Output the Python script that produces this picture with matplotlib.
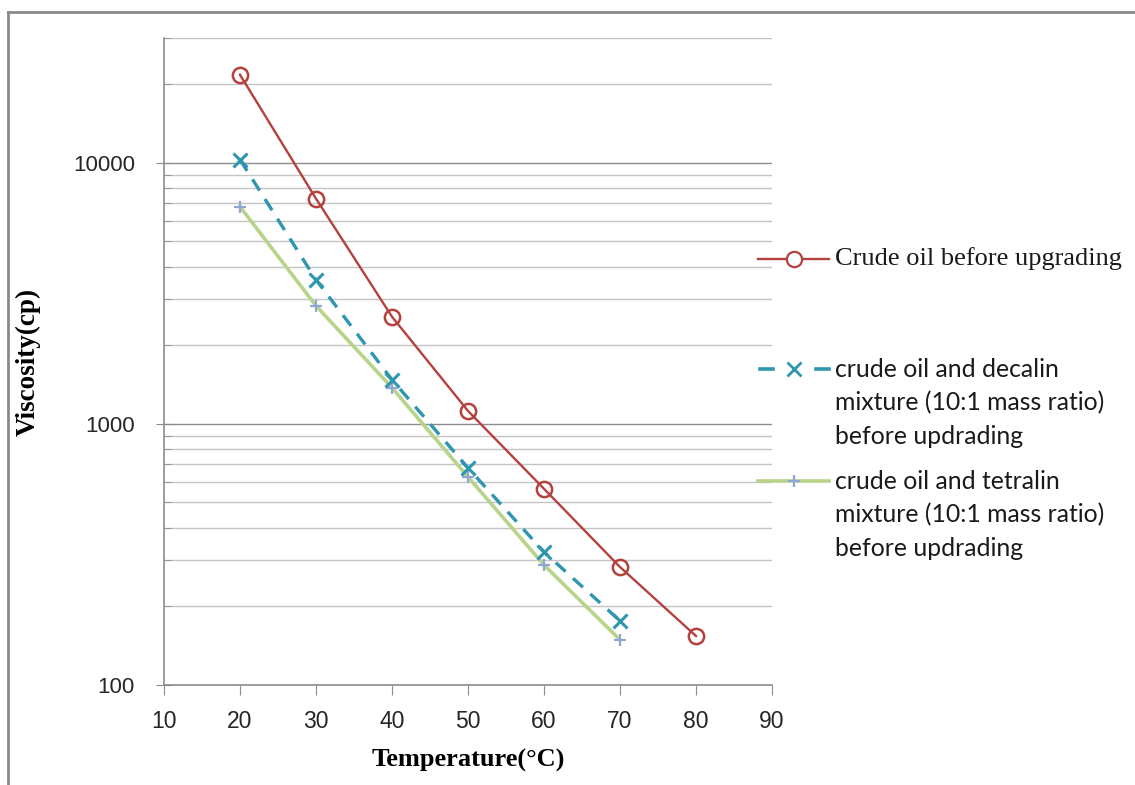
import matplotlib
matplotlib.use("Agg")
import matplotlib.pyplot as plt
from matplotlib.lines import Line2D
from matplotlib.ticker import LogLocator, NullFormatter, FixedLocator

# data
temps_crude = [20, 30, 40, 50, 60, 70, 80]
visc_crude = [21700, 7280, 2570, 1120, 564, 283, 154]

temps_mix = [20, 30, 40, 50, 60, 70]
visc_decalin = [10270, 3560, 1475, 678, 323, 176]
visc_tetralin = [6780, 2830, 1374, 626, 288, 149]

labels = [
    "Crude oil before upgrading",
    "crude oil and decalin\nmixture (10:1 mass ratio)\nbefore updrading",
    "crude oil and tetralin\nmixture (10:1 mass ratio)\nbefore updrading",
]
x_ticks = [10, 20, 30, 40, 50, 60, 70, 80, 90]
y_ticks = [100, 1000, 10000]

RED = "#B5413F"
TEAL = "#2E96AE"
GREEN = "#B7D48A"
PLUS = "#8FA5D3"
GRID_MAJOR = "#8C8C8C"
GRID_MINOR = "#C4C4C4"

W, H = 1135, 785
fig = plt.figure(figsize=(W / 100, H / 100), dpi=100)
ax = fig.add_axes([164 / W, 1 - 685 / H, (772 - 164) / W, (685 - 38) / H])

ax.plot(temps_mix, visc_tetralin, color=GREEN, lw=2.6, marker="+", ms=9,
        mec=PLUS, mew=1.6, zorder=3)
ax.plot(temps_mix, visc_decalin, color=TEAL, lw=2.4, ls=(0, (4, 3)),
        marker="x", ms=10, mec=TEAL, mew=2.2, zorder=4)
ax.plot(temps_crude, visc_crude, color=RED, lw=1.7, marker="o", ms=11,
        mfc="none", mec=RED, mew=1.8, zorder=5)

ax.set_yscale("log")
ax.set_xlim(10, 90)
ax.set_ylim(100, 30000)
ax.set_xticks(x_ticks)
ax.yaxis.set_major_locator(FixedLocator(y_ticks))
ax.set_yticklabels([str(v) for v in y_ticks])
ax.yaxis.set_minor_locator(LogLocator(base=10, subs=range(2, 10)))
ax.yaxis.set_minor_formatter(NullFormatter())

ax.grid(True, which="major", axis="y", color=GRID_MAJOR, lw=1.0)
ax.grid(True, which="minor", axis="y", color=GRID_MINOR, lw=1.0)
ax.set_axisbelow(True)

for s in ["top", "right"]:
    ax.spines[s].set_visible(False)
for s in ["left", "bottom"]:
    ax.spines[s].set_color(GRID_MAJOR)
    ax.spines[s].set_linewidth(1.2)

ax.tick_params(axis="x", which="major", direction="out", length=7,
               color=GRID_MAJOR, labelsize=16.5, pad=11)
ax.tick_params(axis="y", which="major", direction="inout", length=12,
               color=GRID_MAJOR, labelsize=16, pad=15)
ax.tick_params(axis="y", which="minor", direction="in", length=5,
               color=GRID_MAJOR)
for lab in ax.get_xticklabels() + ax.get_yticklabels():
    lab.set_fontfamily(["Liberation Sans", "DejaVu Sans"])
    lab.set_color("#262626")

ax.set_xlabel("Temperature(\u00b0C)", fontfamily="Liberation Serif",
              fontweight="bold", fontsize=19, va="center")
ax.set_ylabel("Viscosity(cp)", fontfamily="Liberation Serif",
              fontweight="bold", fontsize=19.5, va="center")
ax.xaxis.set_label_coords(0.5, (685 - 760) / 647)
ax.yaxis.set_label_coords((28 - 164) / 608, 0.5)

# hand-placed legend (Excel style, keys at the first text line)
def px(x, y):
    return x / W, 1 - y / H

key_x0, key_x1, key_mid = 758, 829, 794
text_x = 835
rows = [259, 369, 481]

keys = [
    Line2D([px(key_x0, 0)[0], px(key_x1, 0)[0]], [px(0, rows[0])[1]] * 2,
           color=RED, lw=1.7),
    Line2D([px(key_mid, 0)[0]], [px(0, rows[0])[1]], marker="o", ms=11,
           mfc="white", mec=RED, mew=1.6),
    Line2D([px(key_x0 + 2, 0)[0], px(key_x0 + 15, 0)[0]],
           [px(0, rows[1])[1]] * 2, color=TEAL, lw=2.6),
    Line2D([px(key_x1 - 13, 0)[0], px(key_x1, 0)[0]],
           [px(0, rows[1])[1]] * 2, color=TEAL, lw=2.6),
    Line2D([px(key_mid, 0)[0]], [px(0, rows[1])[1]], marker="x", ms=10,
           mec=TEAL, mew=2.0),
    Line2D([px(key_x0, 0)[0], px(key_x1, 0)[0]], [px(0, rows[2])[1]] * 2,
           color=GREEN, lw=2.6),
    Line2D([px(key_mid, 0)[0]], [px(0, rows[2])[1]], marker="+", ms=9,
           mec=PLUS, mew=1.6),
]
for art in keys:
    art.set_transform(fig.transFigure)
    fig.add_artist(art)

fig.text(*px(text_x, rows[0]), labels[0], fontfamily="Liberation Serif",
         fontsize=19, va="center", ha="left", color="#1a1a1a")
for lbl, y in zip(labels[1:], rows[1:]):
    fig.text(*px(text_x, y - 11), lbl, fontfamily="Lato", fontsize=17.8,
             va="top", ha="left", linespacing=1.53, color="#1a1a1a")

# outer chart frame, cut off at the right and bottom edges
fig.add_artist(Line2D([8 / W, 8 / W], [0, 1 - 12 / H], color="#8A8A8A",
                      lw=2, transform=fig.transFigure))
fig.add_artist(Line2D([8 / W, 1], [1 - 12 / H, 1 - 12 / H], color="#8A8A8A",
                      lw=2, transform=fig.transFigure))

fig.savefig("out.png", dpi=100)
